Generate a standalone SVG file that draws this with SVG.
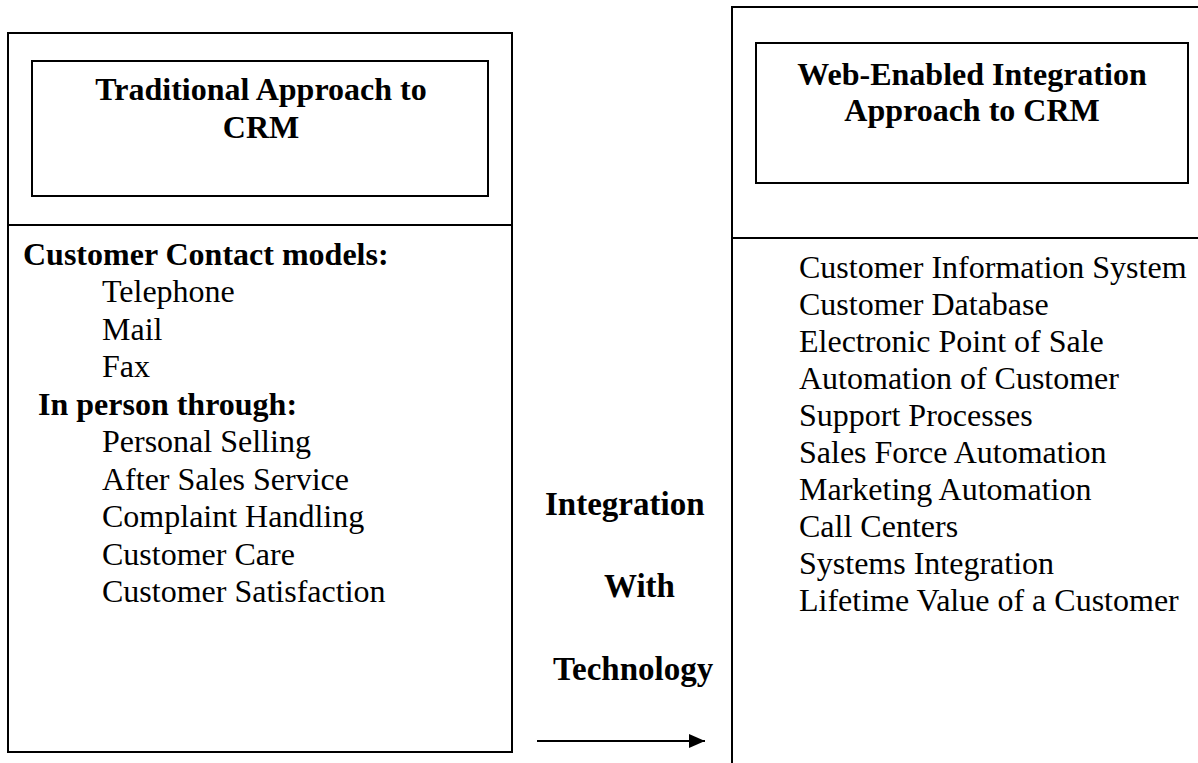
<svg xmlns="http://www.w3.org/2000/svg" width="1198" height="763" viewBox="0 0 1198 763">
<style>
.box{fill:none;stroke:#000;stroke-width:2}
.t{font-family:"Liberation Serif","Times New Roman",serif;font-size:32px;fill:#000}
.b{font-weight:bold}
.c{text-anchor:middle}
.m{font-size:33px}
</style>
<defs>
<marker id="ah" viewBox="0 0 16 14" refX="16" refY="7" markerWidth="16" markerHeight="14" orient="auto" markerUnits="userSpaceOnUse"><path d="M0,0 L16,7 L0,14 z" fill="#000"/></marker>
</defs>
<rect width="1198" height="763" fill="#fff"/>
<g id="traditional">
<rect class="box" x="8" y="33" width="504" height="719"/>
<line class="box" x1="8" y1="225" x2="512" y2="225"/>
<rect class="box" x="32" y="61" width="456" height="135"/>
<text class="t b c" x="261" y="100">Traditional Approach to</text>
<text class="t b c" x="261" y="138">CRM</text>
<text class="t b" x="23" y="265">Customer Contact models:</text>
<text class="t" x="102" y="302">Telephone</text>
<text class="t" x="102" y="340">Mail</text>
<text class="t" x="102" y="377">Fax</text>
<text class="t b" x="38" y="415">In person through:</text>
<text class="t" x="102" y="452">Personal Selling</text>
<text class="t" x="102" y="490">After Sales Service</text>
<text class="t" x="102" y="527">Complaint Handling</text>
<text class="t" x="102" y="565">Customer Care</text>
<text class="t" x="102" y="602">Customer Satisfaction</text>
</g>
<g id="web-enabled">
<path class="box" d="M732,763 V7 H1200"/>
<line class="box" x1="732" y1="238" x2="1200" y2="238"/>
<rect class="box" x="756" y="43" width="432" height="140"/>
<text class="t b c" x="972" y="85">Web-Enabled Integration</text>
<text class="t b c" x="972" y="121">Approach to CRM</text>
<text class="t" x="799" y="278">Customer Information System</text>
<text class="t" x="799" y="315">Customer Database</text>
<text class="t" x="799" y="352">Electronic Point of Sale</text>
<text class="t" x="799" y="389">Automation of Customer</text>
<text class="t" x="799" y="426">Support Processes</text>
<text class="t" x="799" y="463">Sales Force Automation</text>
<text class="t" x="799" y="500">Marketing Automation</text>
<text class="t" x="799" y="537">Call Centers</text>
<text class="t" x="799" y="574">Systems Integration</text>
<text class="t" x="799" y="611">Lifetime Value of a Customer</text>
</g>
<g id="connectors">
<line x1="537" y1="741" x2="705" y2="741" stroke="#000" stroke-width="2.2" marker-end="url(#ah)"/>
<text class="t m b" x="545" y="515">Integration</text>
<text class="t m b" x="604" y="597">With</text>
<text class="t m b" x="553" y="680">Technology</text>
</g>
</svg>
